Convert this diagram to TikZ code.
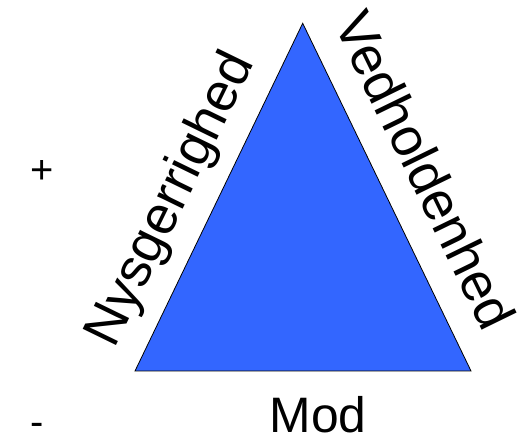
\documentclass[tikz,border=0pt]{standalone}
\usepackage{fontspec}
\setmainfont{Liberation Sans}
\usepackage{xcolor}
\definecolor{triblue}{HTML}{3366FF}

\begin{document}
\begin{tikzpicture}[x=1bp,y=1bp]
				\useasboundingbox (0,0) rectangle (523,440);
				\tikzset{big/.style={font=\fontsize{50}{60}\selectfont,inner sep=0pt}}
				\tikzset{side/.style={font=\fontsize{54}{64}\selectfont,inner sep=0pt}}
				\tikzset{small/.style={font=\fontsize{40}{48}\selectfont,inner sep=0pt}}
				
				\coordinate(top) at (302.7,416.7);
				\coordinate(bl) at (135,69);
				\coordinate(br) at (471,69);
				\draw[fill=triblue, line width=0.8bp] (top) -- (bl) -- (br) -- cycle;
				
				\node(nys) at (172,240)[side,rotate=64]{Nysgerrighed};
				\node(ved) at (426,270)[side,rotate=-64]{Vedholdenhed};
				\node(mod) at (318,7)[big,anchor=base]{Mod};
				\node(plus) at (42,268)[small]{+};
				\node(minus) at (37,11)[small]{-};
				
			\end{tikzpicture}
\end{document}
